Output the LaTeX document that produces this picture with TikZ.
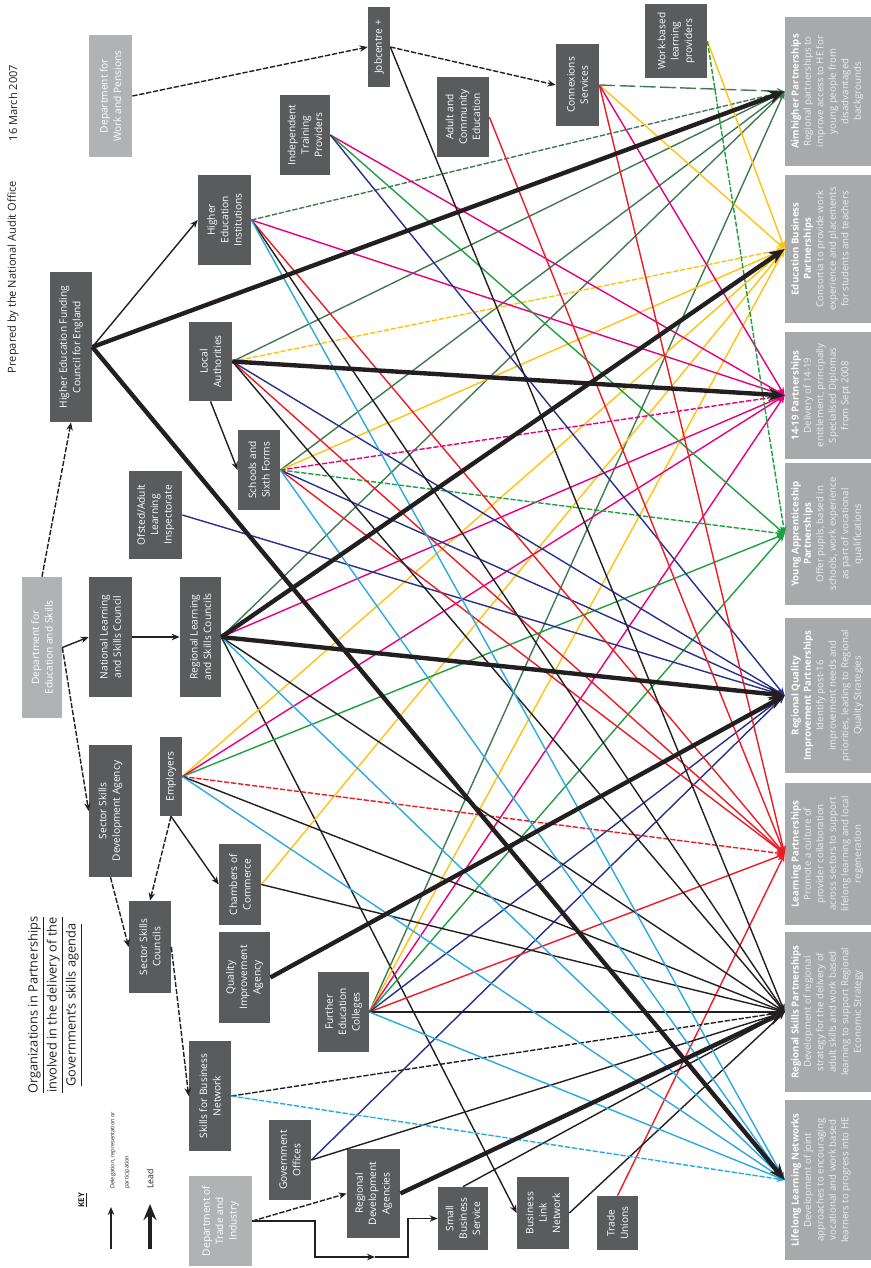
\documentclass[tikz,border=0pt]{standalone}
\usepackage{fontspec}
\setmainfont{Open Sans}
\usetikzlibrary{arrows.meta}
\definecolor{naoorg}{HTML}{5A5B5D}
\definecolor{naodept}{HTML}{B1B2B4}
\definecolor{naopart}{HTML}{A8A9AB}
\definecolor{naoink}{HTML}{231F20}
\definecolor{naopale}{HTML}{EEEEEE}
\definecolor{lnkah}{HTML}{3E7B52}
\definecolor{lnkebp}{HTML}{FFC20E}
\definecolor{lnkyt}{HTML}{E6007E}
\definecolor{lnkyap}{HTML}{1FA03F}
\definecolor{lnkrq}{HTML}{28318A}
\definecolor{lnklp}{HTML}{ED1C24}
\definecolor{lnkrs}{HTML}{231F20}
\definecolor{lnkll}{HTML}{29ABE2}
\newcommand{\bxfont}{\fontsize{5.8}{7.6}\selectfont}
\newcommand{\ptfont}{\fontsize{5.5}{7.1}\selectfont}
\tikzset{
  org/.style={rotate=90, fill=naoorg, text=white, align=center, font=\bxfont, inner sep=1pt},
  dept/.style={org, fill=naodept},
  part/.style={rotate=90, fill=naopart, inner sep=0pt},
  ptext/.style={rotate=90, align=center, font=\ptfont, text=naopale, inner sep=3.5pt},
  arr/.style={-{Stealth[length=1.6mm, width=1.3mm]}, line width=0.8pt, color=naoink},
  lead/.style={-{Stealth[length=3.2mm, width=2.6mm]}, line width=2.5pt, color=naoink},
  dsh/.style={dash pattern=on 3pt off 1pt},
  longdsh/.style={dash pattern=on 9pt off 2.5pt},
  toah/.style={arr, color=lnkah},
  toebp/.style={arr, color=lnkebp},
  toyt/.style={arr, color=lnkyt},
  toyap/.style={arr, color=lnkyap},
  torq/.style={arr, color=lnkrq},
  tolp/.style={arr, color=lnklp},
  tors/.style={arr, color=lnkrs},
  toll/.style={arr, color=lnkll},
}
\begin{document}
\begin{tikzpicture}[x=0.02cm, y=-0.02cm, font=\bxfont]
  \useasboundingbox (0,0) rectangle (871,1268);
  % header
  \node[rotate=90, font=\fontsize{6.3}{7.6}\selectfont, text=naoink] (nao) at (13,277) {Prepared by the National Audit Office};
  \node[rotate=90, font=\fontsize{6.3}{7.6}\selectfont, text=naoink] (date) at (13,103) {16 March 2007};
  \node[rotate=90, align=center, font=\fontsize{7.3}{10.8}\selectfont, text=naoink] (title) at (55,1005)
    {\underline{Organizations in Partnerships}\\\underline{involved in the delivery of the}\\\underline{Government's skills agenda}};
  % key
  \node[rotate=90, font=\fontsize{4.5}{6}\selectfont\bfseries, text=naoink] (key) at (83,1200) {\underline{KEY}};
  \coordinate (k1a) at (111,1249);
  \coordinate (k1b) at (111,1207);
  \coordinate (k2a) at (150,1249);
  \coordinate (k2b) at (150,1204);
  \draw[arr] (k1a) -- (k1b);
  \draw[lead] (k2a) -- (k2b);
  \node[rotate=90, anchor=north west, align=left, font=\fontsize{3.2}{8}\selectfont, text=naoink] (keydel) at (104,1195) {Delegation, representation or\\participation};
  \node[rotate=90, anchor=west, font=\fontsize{5}{6.5}\selectfont, text=naoink] (keylead) at (150,1195) {Lead};

  % departments
  \node[dept, minimum width=2.44cm, minimum height=0.86cm] (dwp) at (110.5,96) {Department for\\Work and Pensions};
  \node[dept, minimum width=2.82cm, minimum height=0.80cm] (dfes) at (42,647.5) {Department for\\Education and Skills};
  \node[dept, minimum width=1.80cm, minimum height=1.26cm] (dti) at (220.5,1221) {Department of\\Trade and\\Industry};

  % organisations
  \node[org, minimum width=3.00cm, minimum height=0.84cm] (hefce) at (71,347) {Higher Education Funding\\Council for England};
  \node[org, minimum width=1.80cm, minimum height=1.06cm] (hei) at (224.5,220) {Higher\\Education\\Institutions};
  \node[org, minimum width=1.60cm, minimum height=1.00cm] (itp) at (305,135) {Independent\\Training\\Providers};
  \node[org, minimum width=1.60cm, minimum height=0.44cm] (job) at (379,47) {Jobcentre +};
  \node[org, minimum width=1.60cm, minimum height=1.04cm] (ace) at (463,117) {Adult and\\Community\\Education};
  \node[org, minimum width=1.64cm, minimum height=0.86cm] (conn) at (577.5,85) {Connexions\\Services};
  \node[org, minimum width=1.48cm, minimum height=1.24cm] (wbl) at (676,41) {Work-based\\learning\\providers};
  \node[org, minimum width=1.58cm, minimum height=0.86cm] (la) at (210.5,361.5) {Local\\Authorities};
  \node[org, minimum width=1.60cm, minimum height=0.84cm] (schools) at (259,470) {Schools and\\Sixth Forms};
  \node[org, minimum width=1.76cm, minimum height=1.06cm] (ofsted) at (155.5,515) {Ofsted/Adult\\Learning\\Inspectorate};
  \node[org, minimum width=2.40cm, minimum height=0.86cm] (nlsc) at (110.5,637) {National Learning\\and Skills Council};
  \node[org, minimum width=2.40cm, minimum height=0.82cm] (rlsc) at (200.5,637) {Regional Learning\\and Skills Councils};
  \node[org, minimum width=2.64cm, minimum height=0.86cm] (ssda) at (110.5,811) {Sector Skills\\Development Agency};
  \node[org, minimum width=1.58cm, minimum height=0.44cm] (emp) at (171,776.5) {Employers};
  \node[org, minimum width=1.62cm, minimum height=0.84cm] (cham) at (240,884.5) {Chambers of\\Commerce};
  \node[org, minimum width=1.84cm, minimum height=0.84cm] (ssc) at (150,947) {Sector Skills\\Councils};
  \node[org, minimum width=1.82cm, minimum height=1.02cm] (qia) at (244.5,977.5) {Quality\\Improvement\\Agency};
  \node[org, minimum width=1.60cm, minimum height=1.02cm] (fec) at (343.5,1012) {Further\\Education\\Colleges};
  \node[org, minimum width=2.20cm, minimum height=0.84cm] (sfbn) at (210,1096) {Skills for Business\\Network};
  \node[org, minimum width=1.60cm, minimum height=0.84cm] (go) at (290,1160) {Government\\Offices};
  \node[org, minimum width=1.78cm, minimum height=1.06cm] (rda) at (373.5,1193.5) {Regional\\Development\\Agencies};
  \node[org, minimum width=1.26cm, minimum height=1.00cm] (sbs) at (463,1218.5) {Small\\Business\\Service};
  \node[org, minimum width=1.44cm, minimum height=1.04cm] (bln) at (543,1213) {Business\\Link\\Network};
  \node[org, minimum width=1.08cm, minimum height=0.82cm] (tu) at (617.5,1223) {Trade\\Unions};

  % partnerships
  \node[part, minimum width=2.98cm, minimum height=1.72cm] (ah) at (828,91.5) {};
  \node[part, minimum width=2.96cm, minimum height=1.72cm] (ebp) at (828,249) {};
  \node[part, minimum width=2.54cm, minimum height=1.72cm] (yt) at (828,395.5) {};
  \node[part, minimum width=2.84cm, minimum height=1.72cm] (yap) at (828,534) {};
  \node[part, minimum width=3.10cm, minimum height=1.72cm] (rq) at (828,695.5) {};
  \node[part, minimum width=2.84cm, minimum height=1.72cm] (lp) at (828,854) {};
  \node[part, minimum width=3.20cm, minimum height=1.72cm] (rs) at (828,1012) {};
  \node[part, minimum width=3.20cm, minimum height=1.72cm] (ll) at (828,1180) {};
  \node[ptext, anchor=north] (ahtxt) at (ah.north) {\textbf{\color{white}Aimhigher Partnerships}\\Regional partnerships to\\improve access to HE for\\young people from\\disadvantaged\\backgrounds};
  \node[ptext, anchor=north] (ebptxt) at (ebp.north) {\textbf{\color{white}Education Business}\\\textbf{\color{white}Partnerships}\\Consortia to provide work\\experience and placements\\for students and teachers};
  \node[ptext, anchor=north] (yttxt) at (yt.north) {\textbf{\color{white}14-19 Partnerships}\\Delivery of 14-19\\entitlement, principally\\Specialised Diplomas\\from Sept 2008};
  \node[ptext, anchor=north] (yaptxt) at (yap.north) {\textbf{\color{white}Young Apprenticeship}\\\textbf{\color{white}Partnerships}\\Offer pupils, based in\\schools, work experience\\as part of vocational\\qualifications};
  \node[ptext, anchor=north] (rqtxt) at (rq.north) {\textbf{\color{white}Regional Quality}\\\textbf{\color{white}Improvement Partnerships}\\Identify post-16\\improvement needs and\\priorities, leading to Regional\\Quality Strategies};
  \node[ptext, anchor=north] (lptxt) at (lp.north) {\textbf{\color{white}Learning Partnerships}\\Promote a culture of\\provider collaboration\\across sectors to support\\lifelong learning and local\\regeneration};
  \node[ptext, anchor=north] (rstxt) at (rs.north) {\textbf{\color{white}Regional Skills Partnerships}\\Development of regional\\strategy for the delivery of\\adult skills and work based\\learning to support Regional\\Economic Strategy};
  \node[ptext, anchor=north] (lltxt) at (ll.north) {\textbf{\color{white}Lifelong Learning Networks}\\Development of joint\\approaches to encouraging\\vocational and work based\\learners to progress into HE};

  % delegation
  \coordinate (elb) at (375,1257);
  \draw[arr, dsh] (dfes.east) -- (hefce.west);
  \draw[arr] (dfes.south) -- (nlsc.north);
  \draw[arr, dsh] (dfes.south) -- (ssda.north);
  \draw[arr] (nlsc.south) -- (rlsc.north);
  \draw[arr] (hefce.south) -- (hei.north);
  \draw[arr, dsh] (dwp.south) -- (job.north);
  \draw[arr, dsh] (job.south) -- (conn.north);
  \draw[arr] (la.west) -- (schools.north);
  \draw[arr, dsh] (emp.west) -- (ssc.east);
  \draw[arr] (emp.west) -- (cham.north);
  \draw[arr, dsh] (ssda.west) -- (ssc.north);
  \draw[arr, dsh] (ssc.south) -- (sfbn.north);
  \draw[arr] (rlsc.south) -- (bln.north);
  \draw[arr, dsh] (dti.south) -- (rda.north);
  \draw[arr] (dti.south) -| (315,1257) -- (elb);
  \draw[arr] (elb) -- (408,1257) |- (sbs.north);

  % aimhigher
  \draw[toah, dsh] (hei.south) -- (ah.north);
  \draw[toah] (la.south) -- (ah.north);
  \draw[toah] (schools.south) -- (ah.north);
  \draw[toah] (rlsc.south) -- (ah.north);
  \draw[toah] (fec.south) -- (ah.north);
  \draw[toah, longdsh] (conn.south) -- (ah.north);
  % education business
  \draw[toebp, dsh] (la.south) -- (ebp.north);
  \draw[toebp] (schools.south) -- (ebp.north);
  \draw[toebp] (emp.south) -- (ebp.north);
  \draw[toebp] (cham.south) -- (ebp.north);
  \draw[toebp] (fec.south) -- (ebp.north);
  \draw[toebp] (conn.south) -- (ebp.north);
  \draw[toebp] (wbl.south) -- (ebp.north);
  % 14-19
  \draw[toyt] (hei.south) -- (yt.north);
  \draw[toyt] (itp.south) -- (yt.north);
  \draw[toyt, dsh] (schools.south) -- (yt.north);
  \draw[toyt] (rlsc.south) -- (yt.north);
  \draw[toyt] (emp.south) -- (yt.north);
  \draw[toyt] (fec.south) -- (yt.north);
  \draw[toyt] (conn.south) -- (yt.north);
  % young apprenticeship
  \draw[toyap] (itp.south) -- (yap.north);
  \draw[toyap, dsh] (schools.south) -- (yap.north);
  \draw[toyap] (emp.south) -- (yap.north);
  \draw[toyap] (fec.south) -- (yap.north);
  \draw[toyap, dsh] (wbl.south) -- (yap.north);
  % regional quality
  \draw[torq] (itp.south) -- (rq.north);
  \draw[torq] (la.south) -- (rq.north);
  \draw[torq] (schools.south) -- (rq.north);
  \draw[torq] (ofsted.south) -- (rq.north);
  \draw[torq] (fec.south) -- (rq.north);
  \draw[torq] (go.south) -- (rq.north);
  % learning partnerships
  \draw[tolp] (hei.south) -- (lp.north);
  \draw[tolp] (la.south) -- (lp.north);
  \draw[tolp] (schools.south) -- (lp.north);
  \draw[tolp] (ace.south) -- (lp.north);
  \draw[tolp, dsh] (emp.south) -- (lp.north);
  \draw[tolp] (fec.south) -- (lp.north);
  \draw[tolp] (conn.south) -- (lp.north);
  \draw[tolp] (tu.east) -- (lp.north);
  % regional skills
  \draw[tors] (hei.south) -- (rs.north);
  \draw[tors] (la.south) -- (rs.north);
  \draw[tors] (rlsc.south) -- (rs.north);
  \draw[tors] (emp.south) -- (rs.north);
  \draw[tors] (cham.south) -- (rs.north);
  \draw[tors] (fec.south) -- (rs.north);
  \draw[tors, dsh] (sfbn.south) -- (rs.north);
  \draw[tors] (go.south) -- (rs.north);
  \draw[tors] (sbs.east) -- (rs.north);
  \draw[tors] (bln.south) -- (rs.north);
  \draw[tors] (job.south) -- (rs.north);
  % lifelong learning
  \draw[toll] (hei.south) -- (ll.north);
  \draw[toll] (schools.south) -- (ll.north);
  \draw[toll] (rlsc.south) -- (ll.north);
  \draw[toll] (emp.south) -- (ll.north);
  \draw[toll] (fec.south) -- (ll.north);
  \draw[toll, dsh] (sfbn.south) -- (ll.north);
  % lead
  \draw[lead] (hefce.south) -- (ah.north);
  \draw[lead] (hefce.south) -- (ll.north);
  \draw[lead] (la.south) -- (yt.north);
  \draw[lead] (rlsc.south) -- (ebp.north);
  \draw[lead] (rlsc.south) -- (rq.north);
  \draw[lead] (qia.south) -- (rq.north);
  \draw[lead] (rda.south) -- (rs.north);
\end{tikzpicture}
\end{document}
